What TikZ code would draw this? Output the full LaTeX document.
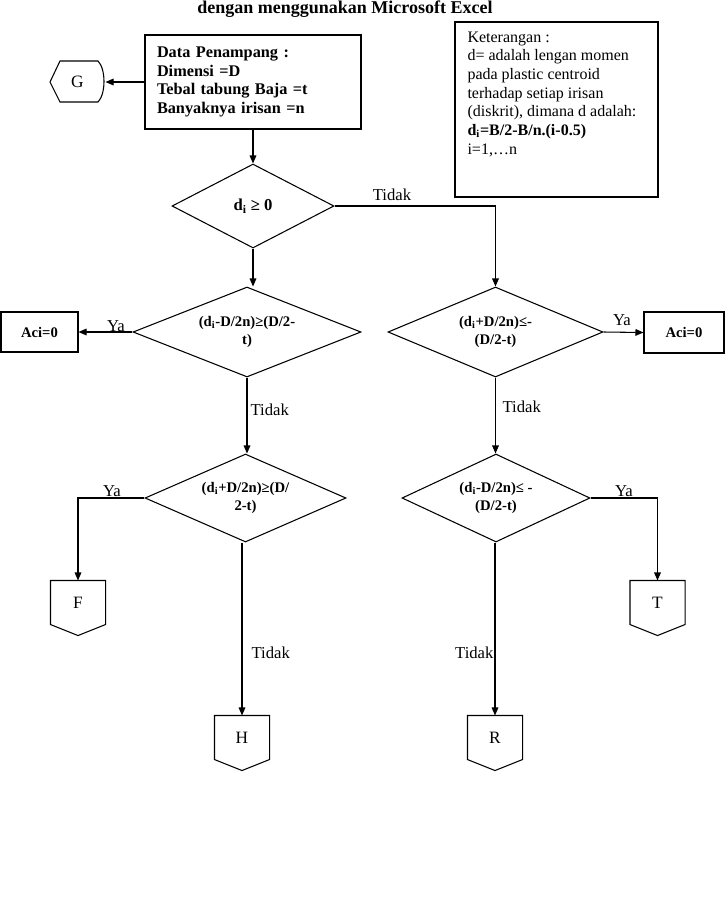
\documentclass[tikz,border=0pt]{standalone}
\usepackage{fontspec}
\setmainfont{Liberation Serif}
\usetikzlibrary{shapes.geometric,arrows.meta}
\newcommand\offpageshape[1]{\draw (#1.north west) -- (#1.north east) -- (#1.south east) -- ([yshift=-8.25pt]#1.south) -- (#1.south west) -- cycle;}
\begin{document}
\begin{tikzpicture}[x=0.75pt,y=-0.75pt,
  line width=0.8pt,
  arr/.style={-{Triangle[length=6pt,width=5pt]}},
  dia/.style={diamond,draw,aspect=2.5,inner sep=0pt,align=center,font=\fontsize{11}{14}\selectfont\bfseries},
  acibox/.style={draw,rectangle,inner sep=0pt,font=\fontsize{11}{13}\selectfont\bfseries},
  offp/.style={rectangle,inner sep=0pt,minimum width=40.5pt,minimum height=32.25pt,font=\fontsize{13}{15}\selectfont},
  lbl/.style={inner sep=0pt,font=\fontsize{12.5}{14}\selectfont}
]
\useasboundingbox (0,0) rectangle (725,901);

\node[anchor=base,inner sep=0pt,font=\fontsize{13.5}{15}\selectfont\bfseries] (title) at (345,13.5) {dengan menggunakan Microsoft Excel};

\node[draw,rectangle,minimum width=162pt,minimum height=70.5pt,text width=144pt,inner xsep=9pt,align=left,font=\fontsize{12.2}{13.8}\selectfont\bfseries] (data) at (253,82)
  {Data Penampang :\\Dimensi =D\\Tebal tabung Baja =t\\Banyaknya irisan =n};

\node[rectangle,inner sep=0pt,minimum width=41.25pt,minimum height=30.75pt,font=\fontsize{13}{15}\selectfont] (G) at (77.5,82) {G};
\draw (50,82) -- (60,61) -- (98,61) .. controls (106,69) and (106,94) .. (98,102) -- (60,102) -- cycle;

\node[draw,rectangle,minimum width=152.25pt,minimum height=131.25pt] (ket) at (556.5,109.5) {};
\node[anchor=north west,inner sep=0pt,align=left,font=\fontsize{12}{14}\selectfont] (kettext) at (467,31)
  {Keterangan :\\d= adalah lengan momen\\pada plastic centroid\\terhadap setiap irisan\\(diskrit), dimana d adalah:\\\textbf{d\textsubscript{i}=B/2-B/n.(i-0.5)}\\i=1,\dots n};

\node[dia,minimum width=121.5pt,minimum height=63pt,font=\fontsize{12.5}{14}\selectfont\bfseries] (d1) at (253,206) {d\textsubscript{i} ≥ 0};

\node[dia,minimum width=171pt,minimum height=67.5pt] (d2L) at (247,332) {(d\textsubscript{i}-D/2n)≥(D/2-\\t)};
\node[dia,minimum width=161.25pt,minimum height=67.5pt] (d2R) at (495.5,332) {(d\textsubscript{i}+D/2n)≤-\\(D/2-t)};
\node[dia,minimum width=150.75pt,minimum height=66pt] (d3L) at (245.5,498) {(d\textsubscript{i}+D/2n)≥(D/\\2-t)};
\node[dia,minimum width=141pt,minimum height=66pt] (d3R) at (496,498) {(d\textsubscript{i}-D/2n)≤ -\\(D/2-t)};

\node[acibox,minimum width=57.75pt,minimum height=30pt] (aciL) at (39.5,332) {Aci=0};
\node[acibox,minimum width=60pt,minimum height=30.75pt] (aciR) at (684,332.5) {Aci=0};

\node[offp] (F) at (78,602.5) {F};
\node[offp] (T) at (657.5,602.5) {T};
\node[offp] (H) at (242,737.5) {H};
\node[offp] (R) at (495,737.5) {R};
\offpageshape{F}
\offpageshape{T}
\offpageshape{H}
\offpageshape{R}

\draw[arr] (data.west) -- (G.east);
\draw[arr] (data.south) -- (d1.north);
\draw[arr] (d1.south) -- (d1.south |- d2L.north);
\draw[arr] (d1.east) -| (d2R.north);
\draw[arr] (d2L.west) -- (aciL.east);
\draw[arr] (d2R.east) -- (aciR.west);
\draw[arr] (d2L.south) -- (d2L.south |- d3L.north);
\draw[arr] (d2R.south) -- (d2R.south |- d3R.north);
\draw[arr] (d3L.west) -| (F.north);
\draw[arr] (d3R.east) -| (T.north);
\draw[arr] (H.north |- d3L.south) -- (H.north);
\draw[arr] (R.north |- d3R.south) -- (R.north);

\node[lbl] (t1) at (392,195) {Tidak};
\node[lbl,anchor=west] (t2) at (250,410) {Tidak};
\node[lbl,anchor=west] (t3) at (502,407) {Tidak};
\node[lbl,anchor=west] (t4) at (251,653) {Tidak};
\node[lbl,anchor=east] (t5) at (494,653) {Tidak};
\node[lbl] (y1) at (116,326) {Ya};
\node[lbl] (y2) at (622,320) {Ya};
\node[lbl] (y3) at (112,491) {Ya};
\node[lbl] (y4) at (624,491) {Ya};
\end{tikzpicture}
\end{document}
